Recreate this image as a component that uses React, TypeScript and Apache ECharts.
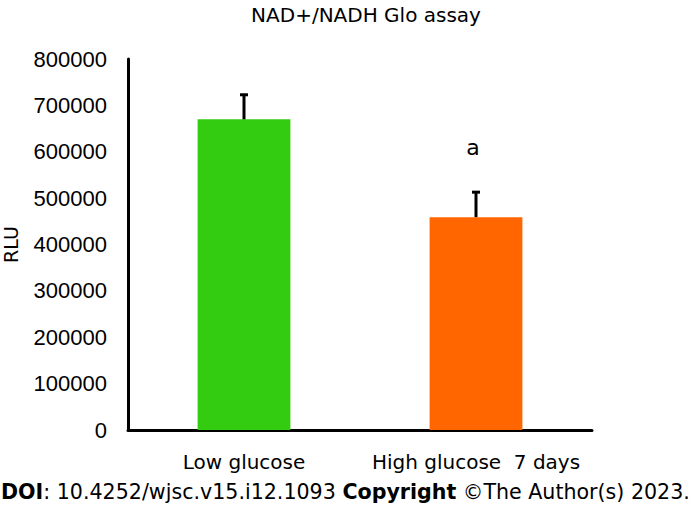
import React, { useEffect, useRef } from "react";
import * as echarts from "echarts";

const categories = ["Low glucose", "High glucose  7 days"];
const meanValues = [670000, 459000];
const errorValues = [55000, 56000];
const barColors = ["#33CC11", "#FF6600"];
const significance = ["", "a"];
const yTicks = { min: 0, max: 800000, interval: 100000 };

export default function App() {
  const ref = useRef<HTMLDivElement>(null);
  useEffect(() => {
    if (!ref.current) return;
    const chart = echarts.init(ref.current, undefined, { renderer: "svg" });
    const font = "DejaVu Sans";
    chart.setOption({
      animation: false,
      backgroundColor: "#ffffff",
      title: {
        text: "NAD+/NADH Glo assay",
        left: 361,
        textAlign: "center",
        top: 0,
        textStyle: { fontFamily: font, fontSize: 20, fontWeight: "normal", color: "#000" },
      },
      grid: { left: 128, right: 101, top: 59, bottom: 82, containLabel: false, outerBoundsMode: "none" },
      xAxis: {
        type: "category",
        data: categories,
        axisLine: { lineStyle: { color: "#000", width: 3 } },
        axisTick: { show: false },
        axisLabel: { color: "#000", fontFamily: font, fontSize: 20, margin: 22, interval: 0 },
      },
      yAxis: {
        type: "value",
        min: yTicks.min,
        max: yTicks.max,
        interval: yTicks.interval,
        name: "RLU",
        nameLocation: "middle",
        nameGap: 108,
        nameRotate: 90,
        nameTextStyle: { color: "#000", fontFamily: font, fontSize: 19 },
        axisLine: { show: true, lineStyle: { color: "#000", width: 3 } },
        axisTick: { show: false },
        splitLine: { show: false },
        axisLabel: {
          color: "#000",
          fontFamily: "Liberation Sans",
          fontSize: 22,
          margin: 21,
          formatter: (v: number) => String(v),
        },
      },
      series: [
        {
          type: "bar",
          barWidth: "40%",
          data: meanValues.map((v, i) => ({ value: v, itemStyle: { color: barColors[i] } })),
          z: 2,
        },
        {
          type: "custom",
          z: 3,
          data: meanValues.map((v, i) => [i, v, v + errorValues[i], significance[i]]),
          renderItem: (params: any, api: any) => {
            const base = api.coord([api.value(0), api.value(1)]);
            const top = api.coord([api.value(0), api.value(2)]);
            const x = base[0];
            const children: any[] = [
              { type: "line", shape: { x1: x, y1: base[1], x2: x, y2: top[1] }, style: { stroke: "#000", lineWidth: 3 } },
              { type: "line", shape: { x1: x - 4, y1: top[1] + 1, x2: x + 4, y2: top[1] + 1 }, style: { stroke: "#000", lineWidth: 3 } },
            ];
            const lbl = significance[params.dataIndex];
            if (lbl) {
              children.push({
                type: "text",
                style: {
                  text: lbl,
                  x: x - 3,
                  y: top[1] - 44,
                  textAlign: "center",
                  textVerticalAlign: "middle",
                  fontFamily: font,
                  fontSize: 22,
                  fill: "#000",
                },
              });
            }
            return { type: "group", children };
          },
        },
      ],
      graphic: [
        {
          type: "text",
          left: 1,
          top: 481,
          style: {
            text: "{b|DOI}: 10.4252/wjsc.v15.i12.1093 {b|Copyright} ©The Author(s) 2023.",
            rich: {
              b: { fontFamily: font, fontSize: 20.6, fontWeight: "bold", fill: "#000" },
            },
            fontFamily: font,
            fontSize: 20.6,
            fill: "#000",
          },
        },
      ],
    });
    return () => chart.dispose();
  }, []);
  return <div ref={ref} style={{ position: "fixed", left: 0, top: 0, width: 693, height: 512 }} />;
}
